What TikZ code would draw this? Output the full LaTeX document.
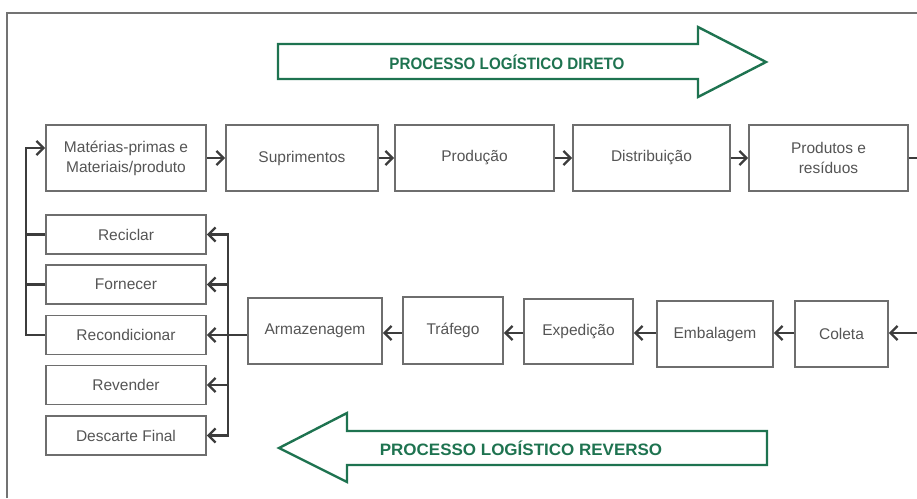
\documentclass[tikz,border=0pt]{standalone}
\usepackage{fontspec}
\setmainfont{Liberation Sans}
\usetikzlibrary{arrows.meta}
\definecolor{boxgray}{RGB}{110,110,110}
\definecolor{txtgray}{RGB}{85,85,85}
\definecolor{lgreen}{RGB}{30,115,80}
\definecolor{lnkc}{RGB}{60,60,60}
\definecolor{framec}{RGB}{115,115,115}
\begin{document}
\begin{tikzpicture}[x=1pt,y=-1pt,
  box/.style={draw=boxgray,line width=1.9pt,fill=white,text=txtgray,
    font=\fontsize{15.5}{20}\selectfont,align=center,inner sep=0pt},
  lnk/.style={draw=lnkc,line width=2.3pt,line join=miter},
  arr/.style={lnk,-{Straight Barb[length=7pt,width=14pt]}},
  garrow/.style={draw=lgreen,line width=2.4pt,line join=miter},
  gtitle/.style={text=lgreen,font=\fontsize{16.5}{20}\selectfont\bfseries,inner sep=0pt}
]
\useasboundingbox (0,0) rectangle (917,498);
\draw[framec,line width=1.6pt] (7,498) -- (7,13) -- (917,13);

% green process arrows
\draw[garrow] (278,44) -- (698,44) -- (698,27) -- (766,62) -- (698,97) -- (698,79) -- (278,79) -- cycle;
\node[gtitle] (tdir) at (507,62) {\scalebox{0.92}[1]{PROCESSO LOGÍSTICO DIRETO}};
\draw[garrow] (767,431) -- (347,431) -- (347,413) -- (279,448) -- (347,482) -- (347,465) -- (767,465) -- cycle;
\node[gtitle] (trev) at (521,448) {\scalebox{1.03}[1]{PROCESSO LOGÍSTICO REVERSO}};

% top row
\node[box,minimum width=160pt,minimum height=66pt] (m1) at (126,158) {Matérias-primas e\\Materiais/produto};
\node[box,minimum width=152pt,minimum height=66pt] (m2) at (302,158) {Suprimentos};
\node[box,minimum width=159pt,minimum height=66pt] (m3) at (474.5,158) {Produção};
\node[box,minimum width=157pt,minimum height=66pt] (m4) at (651.5,158) {Distribuição};
\node[box,minimum width=159pt,minimum height=66pt] (m5) at (828.5,158) {Produtos e\\resíduos};

% left column
\node[box,minimum width=160pt,minimum height=39pt] (rec) at (126,234.5) {Reciclar};
\node[box,minimum width=160pt,minimum height=39pt] (forn) at (126,284.5) {Fornecer};
\node[box,minimum width=160pt,minimum height=39pt] (recond) at (126,335) {Recondicionar};
\node[box,minimum width=160pt,minimum height=39pt] (rev) at (126,385) {Revender};
\node[box,minimum width=160pt,minimum height=39pt] (desc) at (126,435.5) {Descarte Final};

% bottom row
\node[box,minimum width=134pt,minimum height=66pt] (arm) at (315,331) {Armazenagem};
\node[box,minimum width=100pt,minimum height=67pt] (traf) at (453,330.5) {Tráfego};
\node[box,minimum width=109pt,minimum height=65pt] (exp) at (578.5,331.5) {Expedição};
\node[box,minimum width=116pt,minimum height=66pt] (emb) at (715,334) {Embalagem};
\node[box,minimum width=93pt,minimum height=66pt] (col) at (841.5,334) {Coleta};

% top row connectors
\draw[arr] (m1.east) -- (m2.west);
\draw[arr] (m2.east) -- (m3.west);
\draw[arr] (m3.east) -- (m4.west);
\draw[arr] (m4.east) -- (m5.west);
\coordinate (rout) at (917,158);
\draw[lnk] (m5.east) -- (rout);

% bottom row connectors
\coordinate (rin) at (917,333);
\draw[arr] (rin) -- (rin -| col.east);
\draw[arr] (col.west |- rin) -- (rin -| emb.east);
\draw[arr] (emb.west |- rin) -- (rin -| exp.east);
\draw[arr] (exp.west |- rin) -- (rin -| traf.east);
\draw[arr] (traf.west |- rin) -- (rin -| arm.east);

% right bus to left column
\coordinate (bus) at (228,335);
\draw[lnk] (arm.west |- recond.east) -- (bus);
\draw[arr] (bus) -- (bus |- rec.east) -- (rec.east);
\draw[arr] (bus) -- (bus |- desc.east) -- (desc.east);
\draw[arr] (bus |- forn.east) -- (forn.east);
\draw[arr] (bus) -- (recond.east);
\draw[arr] (bus |- rev.east) -- (rev.east);

% left loop back to top
\coordinate (lt) at (26,148);
\coordinate (lb) at (26,335);
\draw[arr] (recond.west) -- (lb) -- (lt) -- (lt -| m1.west);
\draw[lnk] (rec.west) -- (rec.west -| lb);
\draw[lnk] (forn.west) -- (forn.west -| lb);
\end{tikzpicture}
\end{document}
